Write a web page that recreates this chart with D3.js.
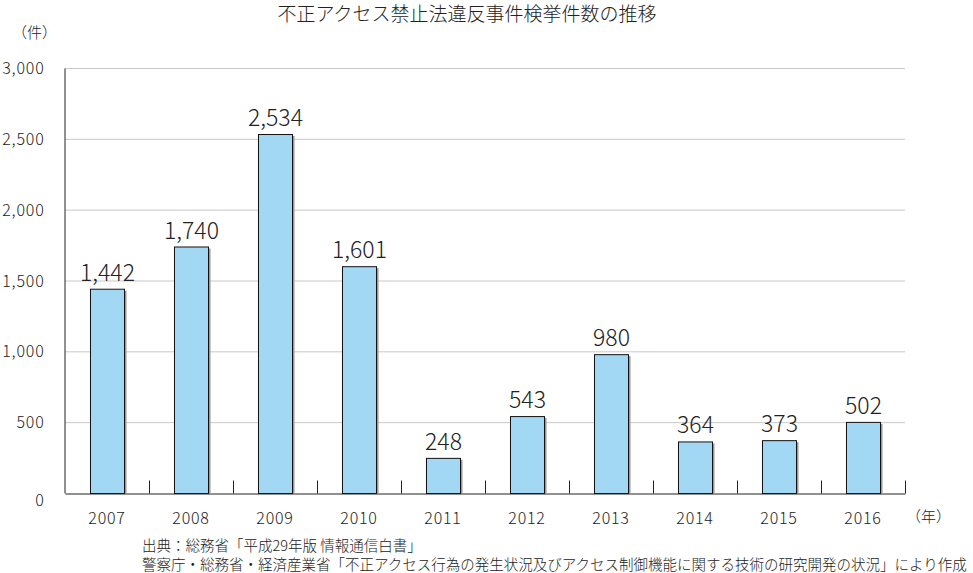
<!DOCTYPE html>
<html>
<head>
<meta charset="utf-8" />
<title>不正アクセス禁止法違反事件検挙件数の推移</title>
<script src="https://d3js.org/d3.v7.min.js"></script>
<style>
html, body { margin: 0; padding: 0; background: #fff; }
svg { display: block; }
svg text { font-family: "Noto Sans CJK JP", "Noto Sans", sans-serif; font-weight: 300; }
.grid line { stroke: #c8c8c8; stroke-width: 1; }
.bar { fill: #a3d8f5; stroke: #111; stroke-width: 1; }
.shadow { fill: #9a9a9a; }
</style>
</head>
<body>
<script>
const years = ['2007', '2008', '2009', '2010', '2011', '2012', '2013', '2014', '2015', '2016'];
const counts = [1442, 1740, 2534, 1601, 248, 543, 980, 364, 373, 502];
const yTicks = [0, 500, 1000, 1500, 2000, 2500, 3000];
const title = '不正アクセス禁止法違反事件検挙件数の推移';
const notes = [
    '出典：総務省「平成29年版 情報通信白書」',
    '警察庁・総務省・経済産業省「不正アクセス行為の発生状況及びアクセス制御機能に関する技術の研究開発の状況」により作成'
];

const w = 973, h = 573;
const plotL = 65, plotR = 905, plotT = 68, plotB = 493;

const svg = d3.select('body').append('svg').attr('width', w).attr('height', h);

const x = d3.scaleBand().domain(years).range([plotL, plotR]).paddingInner(0.595).paddingOuter(0.2975);
const band = d3.scaleBand().domain(years).range([plotL, plotR]);
const y = d3.scaleLinear().domain([0, 3000]).range([plotB, plotT]);

// gridlines
svg.append('g').attr('class', 'grid')
    .selectAll('line').data(yTicks.filter(d => d > 0)).enter()
    .append('line')
    .attr('x1', plotL).attr('x2', plotR)
    .attr('y1', d => y(d) + 0.5).attr('y2', d => y(d) + 0.5);

// bars (with a thin shadow on the right edge)
svg.selectAll('.shadow').data(counts).enter()
    .append('rect').attr('class', 'shadow')
    .attr('x', (d, i) => x(years[i]) + x.bandwidth() + 0.5)
    .attr('y', d => y(d) + 2)
    .attr('width', 2)
    .attr('height', d => y(0) - y(d) - 2);

svg.selectAll('.bar').data(counts).enter()
    .append('rect').attr('class', 'bar')
    .attr('x', (d, i) => x(years[i]) + 0.5)
    .attr('y', d => y(d) + 0.5)
    .attr('width', x.bandwidth())
    .attr('height', d => y(0) - y(d));

// value labels
svg.selectAll('.val').data(counts).enter()
    .append('text').attr('class', 'val')
    .attr('x', (d, i) => x(years[i]) + x.bandwidth() / 2 + 0.5)
    .attr('y', d => y(d) - 8)
    .attr('text-anchor', 'middle')
    .attr('font-size', 23)
    .attr('fill', '#222')
    .text(d => d3.format(',')(d));

// axes
const xAxis = d3.axisBottom(band).tickSizeOuter(0).tickFormat('');
const gx = svg.append('g').attr('transform', 'translate(0,' + (plotB + 0.5) + ')').call(xAxis);
gx.select('.domain').attr('stroke', '#222');
gx.selectAll('.tick').remove();
gx.selectAll('.sep').data(years).enter()
    .append('line').attr('class', 'sep')
    .attr('x1', d => band(d) + band.bandwidth() + 0.5)
    .attr('x2', d => band(d) + band.bandwidth() + 0.5)
    .attr('y1', 0).attr('y2', -13)
    .attr('stroke', '#222');
gx.selectAll('.lab').data(years).enter()
    .append('text').attr('class', 'lab')
    .attr('x', d => band(d) + band.bandwidth() / 2)
    .attr('y', 30)
    .attr('text-anchor', 'middle')
    .attr('font-size', 16)
    .attr('letter-spacing', 0.8)
    .attr('fill', '#222')
    .text(d => d);

const yAxis = d3.axisLeft(y).tickValues(yTicks).tickSize(0).tickPadding(20).tickFormat(d3.format(','));
const gy = svg.append('g').attr('transform', 'translate(' + (plotL - 0.5) + ',0)').call(yAxis);
gy.select('.domain').attr('stroke', '#222');
gy.selectAll('text').attr('font-size', 16).attr('letter-spacing', 0.8).attr('fill', '#222')
    .attr('dy', d => d === 0 ? '0.75em' : '0.35em');

// titles
svg.append('text').attr('x', 467).attr('y', 21).attr('text-anchor', 'middle')
    .attr('font-size', 19).attr('fill', '#222').text(title);
svg.append('text').attr('x', 12).attr('y', 38)
    .attr('font-size', 15).attr('fill', '#222').text('（件）');
svg.append('text').attr('x', 906).attr('y', 522)
    .attr('font-size', 15).attr('fill', '#222').text('（年）');

svg.selectAll('.note').data(notes).enter()
    .append('text').attr('class', 'note')
    .attr('x', 142)
    .attr('y', (d, i) => 551 + i * 19)
    .attr('font-size', 14.5)
    .attr('fill', '#222')
    .text(d => d);
</script>
</body>
</html>
